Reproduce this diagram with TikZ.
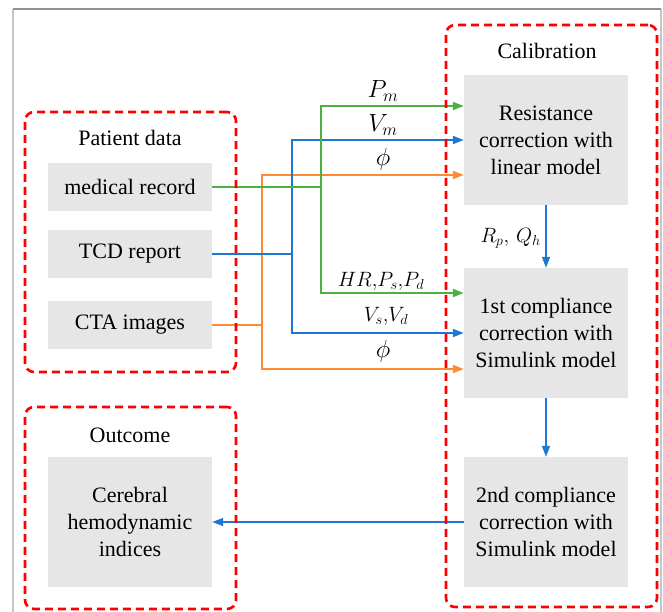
\documentclass[tikz,border=0pt]{standalone}
\usepackage{fontspec}
\setmainfont{Liberation Serif}
\usetikzlibrary{arrows.meta}
\definecolor{gfill}{HTML}{E6E6E6}
\definecolor{cgreen}{HTML}{4DB043}
\definecolor{cblue}{HTML}{1E78D2}
\definecolor{corange}{HTML}{FF8A33}
\begin{document}
\begin{tikzpicture}[x=1pt,y=-1pt,
  font=\fontsize{22}{27}\selectfont,
  proc/.style={fill=gfill, minimum width=164pt, align=center, inner sep=0pt},
  grp/.style={draw=red, rounded corners=9pt, line width=2.6pt, dash pattern=on 8pt off 5pt, minimum width=211pt, inner sep=0pt},
  link/.style={line width=1.8pt, -{Triangle[length=11pt,width=8pt]}},
  lbl/.style={font=\fontsize{24}{26}\selectfont},
  slbl/.style={font=\fontsize{21}{24}\selectfont}]
\useasboundingbox (0,0) rectangle (663,612);
% outer frame
\draw[gray!45, line width=2pt] (13,612) -- (13,9);
\draw[gray!45, line width=2pt] (661,9) -- (661,612);
\draw[gray!85, line width=1.5pt] (13,9) -- (661,9);
% process boxes
\node[proc, minimum height=48pt] (med) at (130,187) {medical record};
\node[proc, minimum height=48pt] (tcd) at (130,254) {TCD report};
\node[proc, minimum height=48pt] (cta) at (130,325) {CTA images};
\node[proc, minimum height=130pt] (cer) at (130,522) {Cerebral\\hemodynamic\\indices};
\node[proc, minimum height=130pt] (res) at (546,140) {Resistance\\correction with\\linear model};
\node[proc, minimum height=130pt] (c1) at (546,333) {1st compliance\\correction with\\Simulink model};
\node[proc, minimum height=130pt] (c2) at (546,522) {2nd compliance\\correction with\\Simulink model};
% titles
\node (tpat) at (130,138) {Patient data};
\node (tout) at (130,435) {Outcome};
\node (tcal) at (547,51) {Calibration};
% connectors
\draw[link,corange] (cta.east) -- (262,325) |- ([yshift=-35pt]res.west);
\draw[link,corange] (262,325) |- ([yshift=-36pt]c1.west);
\draw[link,cblue] (tcd.east) -- (292,254) |- (res.west);
\draw[link,cblue] (292,254) |- (c1.west);
\draw[link,cgreen] (med.east) -- (321,187) |- ([yshift=34pt]res.west);
\draw[link,cgreen] (321,187) |- ([yshift=40pt]c1.west);
\draw[link,cblue,line width=1.5pt] (res.south) -- (c1.north);
\draw[link,cblue,line width=1.5pt] (c1.south) -- (c2.north);
\draw[link,cblue,line width=1.5pt] (c2.west) -- (cer.east);
% labels
\node[lbl] (lpm) at (383,91) {$P_m$};
\node[lbl] (lvm) at (383,125) {$V_m$};
\node[lbl] (lph1) at (383,159) {$\phi$};
\node[slbl] (lhr) at (381,281) {$HR,\!P_s,\!P_d$};
\node[slbl] (lvs) at (386,316) {$V_s,\!V_d$};
\node[lbl] (lph2) at (383,351) {$\phi$};
\node[slbl, anchor=east, inner sep=0pt] (lrq) at (541,238) {$R_p,\,Q_h$};
% groups
\node[grp, minimum height=260pt] (gpat) at (130.5,242) {};
\node[grp, minimum height=202pt] (gout) at (130.5,508) {};
\node[grp, minimum height=582pt] (gcal) at (551.5,316) {};
\end{tikzpicture}
\end{document}
